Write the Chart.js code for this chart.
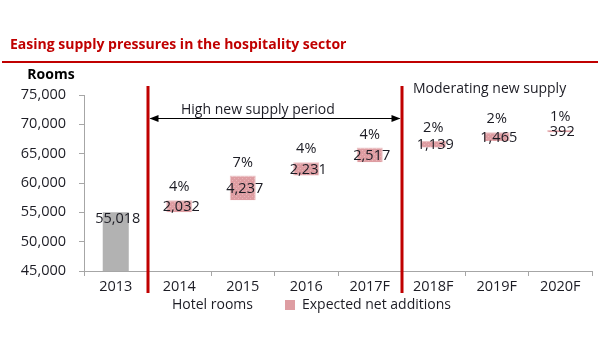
<!DOCTYPE html>
<html lang="en">
<head>
    <meta charset="UTF-8">
    <title>Easing supply pressures in the hospitality sector</title>
    <script src="https://cdn.jsdelivr.net/npm/chart.js"></script>
    <style>
        body { margin: 0; background: #fff; }
        #wrap { width: 600px; height: 360px; position: relative; }
    </style>
</head>
<body>
    <div id="wrap"><canvas id="supplyChart" width="600" height="360"></canvas></div>

    <script>
        // chart data
        const categories = ['2013', '2014', '2015', '2016', '2017F', '2018F', '2019F', '2020F'];
        const hotelRooms = [55018, null, null, null, null, null, null, null];
        const netAdditions = [null, 2032, 4237, 2231, 2517, 1139, 1465, 392];
        const growthPct = ['', '4%', '7%', '4%', '4%', '2%', '2%', '1%'];
        const yTicks = [45000, 50000, 55000, 60000, 65000, 70000, 75000];

        const FONT = 'Open Sans';
        const RED = '#c00000';
        const TEXT = '#1c1c24';
        const LEGEND_Y = 304;

        // waterfall: each addition floats on top of the running total
        let running = hotelRooms[0];
        const additionBars = netAdditions.map(v => {
            if (v === null) return null;
            const bar = [running, running + v];
            running += v;
            return bar;
        });

        function makePattern() {
            const c = document.createElement('canvas');
            c.width = 4; c.height = 4;
            const g = c.getContext('2d');
            g.fillStyle = '#de9da2';
            g.fillRect(0, 0, 4, 4);
            g.fillStyle = '#e9b4b7';
            g.fillRect(0, 0, 1, 1);
            g.fillRect(2, 2, 1, 1);
            return g.createPattern(c, 'repeat');
        }
        const pink = makePattern();

        const decorations = {
            id: 'decorations',
            afterLayout(chart) {
                // legend sits just under the axis labels
                const lg = chart.legend;
                const dy = (LEGEND_Y - 38) - lg.top;
                lg.top += dy;
                lg.bottom += dy;
                lg.left += 7;
                lg.right += 7;
            },
            beforeDraw(chart) {
                const ctx = chart.ctx;
                ctx.save();
                ctx.fillStyle = RED;
                ctx.font = 'bold 14px "' + FONT + '"';
                ctx.textBaseline = 'alphabetic';
                ctx.fillText('Easing supply pressures in the hospitality sector', 10, 49);
                ctx.fillRect(2, 61, 596, 2);
                ctx.fillStyle = '#000';
                ctx.font = 'bold 14px "' + FONT + '"';
                ctx.textAlign = 'center';
                ctx.textBaseline = 'middle';
                ctx.fillText('Rooms', 51, 75);
                ctx.restore();
            },
            afterDatasetsDraw(chart) {
                const ctx = chart.ctx;
                const x = chart.scales.x;
                ctx.save();
                ctx.font = '14.5px "' + FONT + '"';
                ctx.fillStyle = TEXT;
                ctx.textAlign = 'center';

                // value labels
                const baseMeta = chart.getDatasetMeta(0);
                baseMeta.data.forEach((bar, i) => {
                    if (hotelRooms[i] === null) return;
                    ctx.textBaseline = 'top';
                    ctx.fillText(hotelRooms[i].toLocaleString('en-US'), bar.x + 2, bar.y - 1);
                });
                const addMeta = chart.getDatasetMeta(1);
                addMeta.data.forEach((bar, i) => {
                    if (netAdditions[i] === null) return;
                    const mid = (bar.y + bar.base) / 2;
                    const top = Math.min(bar.y, bar.base);
                    ctx.textBaseline = 'middle';
                    ctx.fillText(netAdditions[i].toLocaleString('en-US'), bar.x + 2, mid + 1);
                    ctx.fillText(growthPct[i], bar.x, top - 13);
                });

                // period separators
                const sep1 = (x.getPixelForValue(0) + x.getPixelForValue(1)) / 2;
                const sep2 = (x.getPixelForValue(4) + x.getPixelForValue(5)) / 2;
                ctx.fillStyle = RED;
                ctx.fillRect(sep1 - 1, 86, 3, 207);
                ctx.fillRect(sep2 - 1, 86, 3, 207);

                // arrow over the high supply years
                const ay = 118;
                ctx.strokeStyle = '#000';
                ctx.lineWidth = 1;
                ctx.beginPath();
                ctx.moveTo(sep1 + 3, ay + 0.5);
                ctx.lineTo(sep2 - 2, ay + 0.5);
                ctx.stroke();
                ctx.fillStyle = '#000';
                ctx.beginPath();
                ctx.moveTo(sep1 + 2, ay + 0.5);
                ctx.lineTo(sep1 + 11, ay - 3);
                ctx.lineTo(sep1 + 11, ay + 4);
                ctx.fill();
                ctx.beginPath();
                ctx.moveTo(sep2 - 1, ay + 0.5);
                ctx.lineTo(sep2 - 10, ay - 3);
                ctx.lineTo(sep2 - 10, ay + 4);
                ctx.fill();

                ctx.fillStyle = TEXT;
                ctx.font = '14px "' + FONT + '"';
                ctx.textBaseline = 'middle';
                ctx.textAlign = 'left';
                ctx.fillText('High new supply period', 181, 110);
                ctx.fillText('Moderating new supply', 413, 89);
                ctx.restore();
            }
        };

        new Chart(document.getElementById('supplyChart'), {
            type: 'bar',
            data: {
                labels: categories,
                datasets: [{
                    label: 'Hotel rooms',
                    data: hotelRooms,
                    backgroundColor: '#b2b2b2',
                    grouped: false
                }, {
                    label: 'Expected net additions',
                    data: additionBars,
                    backgroundColor: pink,
                    borderColor: '#ecc3c5',
                    borderWidth: 1,
                    grouped: false
                }]
            },
            options: {
                responsive: false,
                animation: false,
                barPercentage: 0.41,
                categoryPercentage: 1,
                layout: { padding: { top: 95, right: 8, left: 0, bottom: 6 } },
                plugins: {
                    title: { display: false },
                    tooltip: { enabled: false },
                    legend: {
                        position: 'bottom',
                        labels: {
                            boxWidth: 10,
                            boxHeight: 10,
                            padding: 32,
                            color: TEXT,
                            font: { family: FONT, size: 14 },
                            generateLabels(chart) {
                                const items = Chart.defaults.plugins.legend.labels.generateLabels(chart);
                                items[0].fillStyle = 'rgba(0,0,0,0)';
                                items[0].strokeStyle = 'rgba(0,0,0,0)';
                                items[1].fillStyle = '#de9da2';
                                items[1].strokeStyle = '#de9da2';
                                items[1].lineWidth = 0;
                                return items;
                            }
                        }
                    }
                },
                scales: {
                    x: {
                        afterFit(scale) { scale.height = 27; },
                        grid: { drawOnChartArea: false, tickLength: 5, color: '#a6a6a6' },
                        border: { color: '#a6a6a6' },
                        ticks: { color: TEXT, font: { family: FONT, size: 14.5 }, padding: 2 }
                    },
                    y: {
                        min: 45000,
                        max: 75000,
                        afterBuildTicks(scale) {
                            scale.ticks = yTicks.map(v => ({ value: v }));
                        },
                        afterFit(scale) { scale.width = 84; },
                        grid: { drawOnChartArea: false, tickLength: 5, color: '#a6a6a6' },
                        border: { color: '#a6a6a6' },
                        ticks: {
                            color: TEXT,
                            font: { family: FONT, size: 14.5 },
                            padding: 13,
                            callback: v => v.toLocaleString('en-US')
                        }
                    }
                }
            },
            plugins: [decorations]
        });
    </script>
</body>
</html>
